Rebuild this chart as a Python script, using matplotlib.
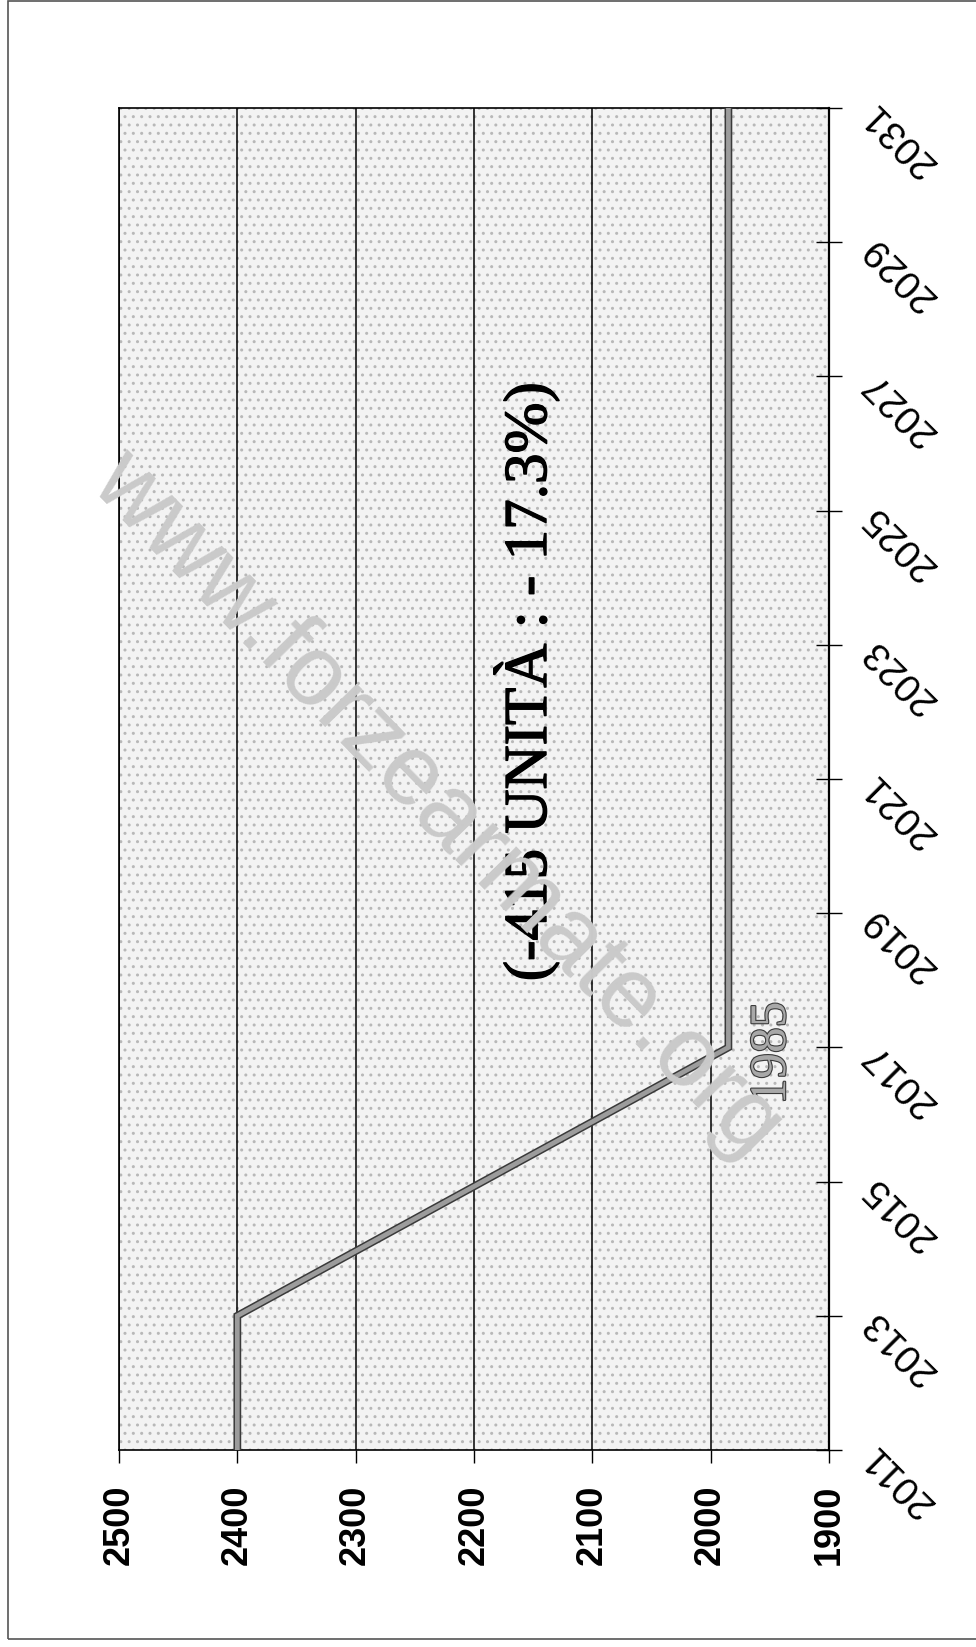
#!/usr/bin/env python3
# -*- coding: utf-8 -*-
"""
Unita' previste 2011-2031, grafico ruotato di 90 gradi (anni sull'asse destro).
"""

import numpy as np
import matplotlib
matplotlib.use("Agg")
import matplotlib.pyplot as plt
import matplotlib.patheffects as pe
from matplotlib.patches import Rectangle

# punti di svolta della serie (anno, unita')
years = [2011, 2013, 2017, 2031]
units = [2400, 2400, 1985, 1985]

value_ticks = [2500, 2400, 2300, 2200, 2100, 2000, 1900]
year_ticks = [2011, 2013, 2015, 2017, 2019, 2021, 2023, 2025, 2027, 2029, 2031]

drop = units[0] - units[-1]
drop_pct = 100.0 * drop / units[0]

plt.rcParams["font.family"] = ["Liberation Sans", "DejaVu Sans"]
serif = ["Liberation Serif", "DejaVu Serif"]

W, H = 976, 1647
fig = plt.figure(figsize=(W / 100, H / 100), dpi=100)
ax = fig.add_axes([119 / W, 1 - 1450 / H, (829 - 119) / W, (1450 - 108) / H])

# fondo puntinato
bg = Rectangle((0, 0), 1, 1, transform=ax.transAxes, facecolor="#f3f3f3",
               edgecolor="#b8b8b8", hatch="..", lw=0, zorder=0)
ax.add_patch(bg)
ax.set_facecolor("white")

ax.set_xlim(value_ticks[0], value_ticks[-1])
ax.set_ylim(year_ticks[0], year_ticks[-1])
ax.set_xticks(value_ticks)
ax.set_yticks(year_ticks)
ax.yaxis.tick_right()

ax.grid(axis="x", color="black", lw=1.1, zorder=1)
ax.grid(axis="y", visible=False)

for s in ax.spines.values():
    s.set_color("black")
    s.set_linewidth(1.2)
    s.set_zorder(3)
ax.spines["right"].set_linewidth(1.6)

ax.tick_params(axis="x", direction="out", length=9, width=1.0, pad=16,
               labelsize=26, labelrotation=90)
for lbl in ax.get_xticklabels():
    lbl.set_fontweight("bold")

ax.tick_params(axis="y", direction="inout", length=19, width=1.0, pad=19,
               labelsize=28)
for lbl in ax.get_yticklabels():
    lbl.set_rotation(135)
    lbl.set_rotation_mode("anchor")
    lbl.set_ha("right")
    lbl.set_va("center")

# linea della serie, grigia con bordo scuro
ax.plot(units, years, color="#9c9c9c", lw=3.4, solid_joinstyle="miter",
        zorder=4,
        path_effects=[pe.Stroke(linewidth=5.6, foreground="#3a3a3a"), pe.Normal()])

# valore finale
ax.annotate("%d" % units[-1], xy=(units[-1], years[2]), xytext=(32, -4),
            textcoords="offset points", rotation=90, ha="center", va="center",
            fontsize=37, family=serif, color="#a8a8a8", zorder=5,
            path_effects=[pe.withStroke(linewidth=1.6, foreground="#3a3a3a")])

# calo complessivo
ax.text(2156, 2022.45, "(-%d UNITÀ : - %.1f%%)" % (drop, drop_pct),
        rotation=90, ha="center", va="center", fontsize=44,
        family=serif, color="black", zorder=5,
        path_effects=[pe.withStroke(linewidth=1.0, foreground="black")])

# scritta del sito
fig.text(437 / W, 1 - 805 / H, "www.forzearmate.org", rotation=-45.6,
         ha="center", va="center", fontsize=72, color="#cacaca", zorder=10)

# cornice esterna
frame = Rectangle((8 / W, 1 - 1639 / H), 1.2, 1639 / H - 1 / H,
                  transform=fig.transFigure, fill=False, edgecolor="#555555",
                  lw=1.2)
fig.add_artist(frame)

fig.savefig("out.png", dpi=100)
